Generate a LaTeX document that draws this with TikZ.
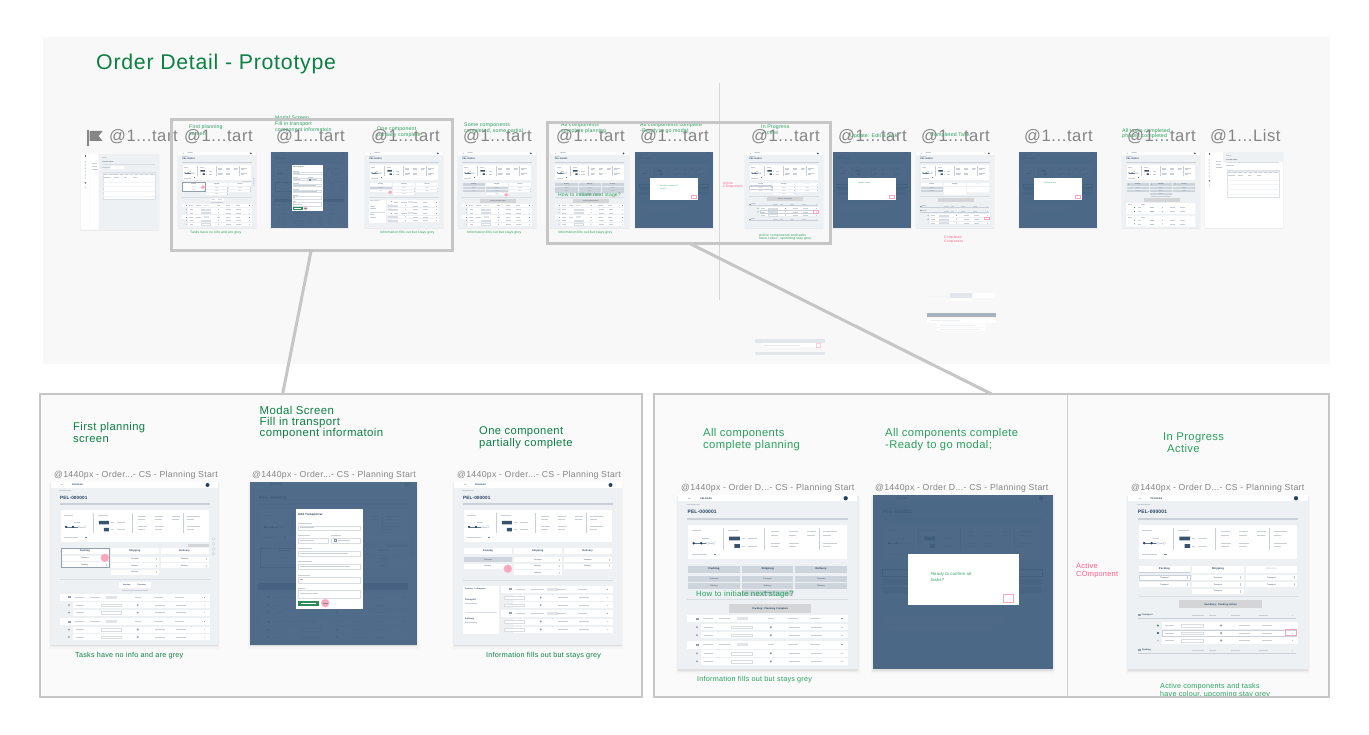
\documentclass[tikz,border=0pt]{standalone}
\usepackage{fontspec}
\setmainfont[LetterSpace=3.5]{Liberation Sans}
\usetikzlibrary{calc}
\definecolor{panelbg}{HTML}{F8F8F8}
\definecolor{boxbg}{HTML}{FAFAFA}
\definecolor{framec}{HTML}{C6C6C6}
\definecolor{gtitle}{HTML}{0B8043}
\definecolor{gsoft}{HTML}{27A05C}
\definecolor{glabel}{HTML}{858585}
\definecolor{pinkt}{HTML}{FF5C8A}
\definecolor{pinkf}{HTML}{F7A6BC}
\definecolor{navy}{HTML}{23405F}
\definecolor{scrbg}{HTML}{EDF1F4}
\definecolor{tinyc}{HTML}{C8CFD7}
\definecolor{greyrow}{HTML}{CDD4DC}
\definecolor{ovl}{HTML}{3F5D7E}
\definecolor{btn}{HTML}{D3D5D6}
\definecolor{linec}{HTML}{C9D0D9}
\definecolor{bargreen}{HTML}{2E8B57}
\newcounter{nn}
\newcommand\tx[5][base west]{\stepcounter{nn}\node[anchor=#1,inner sep=0pt,text=#4,font=\fontsize{#3}{#3}\selectfont] (n\thenn) at ($(#2)+(0,.35*#3)$) {#5};}
\newcommand\tl[4][tinyc]{\fill[#1] (#2,#3) rectangle ++(#4,.8);}
\newcommand\screen[4]{\begin{scope}[shift={(#1,#2)},scale=#3,transform shape]#4\end{scope}}
\newcommand\shadow{%
  \fill[black,opacity=.02] (-2,1) rectangle (170,167);
  \fill[black,opacity=.03] (-1,1) rectangle (169,165.5);
  \fill[black,opacity=.06] (0,1) rectangle (168,164.2);}
\newcommand\scrbase{%
  \shadow
  \fill[scrbg] (0,0) rectangle (168,163);
  \fill[white] (0,0) rectangle (168,6);
  \fill[tinyc] (10,2.4) rectangle ++(2,1);
  \tx{21,3}{2.2}{navy}{\bfseries PELEKAS}
  \fill[navy] (157,3) circle (2);
  \tl{8.5}{8.5}{12}
  \tx{9,15.5}{4.6}{navy}{\bfseries PEL-000001}
  \fill[linec] (9,21.5) rectangle (159,23);
  \fill[white] (10,28) rectangle (158,60);
  \tl{13}{33}{9}\tl{23}{40.5}{6}
  \draw[navy!70,line width=.3] (15,45) -- (28,45);
  \draw[tinyc,line width=.3] (28,45) -- (34,45);
  \fill[navy] (15,45) circle (1.3) (22,45) circle (1.3);
  \filldraw[draw=tinyc,fill=white,line width=.3] (28,45) circle (1.3) (34,45) circle (1.3);
  \tl{13}{55}{14}\fill[navy!60] (34,54.8) rectangle ++(2,1);
  \fill[tinyc] (42,31) rectangle ++(.3,20);
  \tl{47}{33}{10}
  \fill[navy!90] (48,39) rectangle (58,42.5) (53,46) rectangle (58,49.5);
  \tl{60}{40.5}{3}\tl{66}{40.5}{8}\tl{60}{47.5}{3}\tl{66}{47.5}{8}
  \fill[tinyc] (81,31) rectangle ++(.3,20);
  \foreach \q in {87,104,121}{\tl{\q}{34}{8}\tl{\q}{37}{7}}
  \foreach \q in {87,104}{\tl{\q}{44.5}{9}\tl{\q}{47.5}{7}}
  \fill[tinyc] (132,31) rectangle ++(.3,20);
  \tl{136}{34}{13}\tl{136}{37}{7}\tl{136}{44.5}{13}\tl{136}{47.5}{7}}
\newcommand\chd[5][navy]{\fill[#4] (#2,#3) rectangle ++(48,6.5);\tx[base]{#2+24,#3+3.2}{2.5}{#1}{\bfseries #5}}
\newcommand\cel[4][Transport]{\fill[#4] (#2,#3) rectangle ++(48,5);\tx[base]{#2+24,#3+2.5}{1.8}{navy}{#1}\fill[tinyc] (#2+45,#3+1.3) rectangle ++(.5,2.4);}
\newcommand\hrow[2][9]{%
  \fill[white] (#1,#2) rectangle (159,#2+7);
  \fill[navy!50] (#1+8,#2+2.6) rectangle ++(3,2);
  \tl{#1+15}{#2+3}{9}\tl{#1+30}{#2+3}{10}
  \fill[greyrow!60] (#1+46,#2+2) rectangle ++(11,3);
  \tl{84}{#2+3}{6}\tl{103}{#2+3}{9}\tl{124}{#2+3}{9}
  \fill[navy!50] (153,#2+3) rectangle ++(1.5,1);}
\newcommand\trow[3][22]{%
  \fill[#3] (#1-4,#2+3) circle (1);
  \fill[white] (#1,#2) rectangle (159,#2+6);
  \tl{#1+3}{#2+2.6}{8}
  \draw[tinyc!70,fill=white,line width=.25] (50,#2+1.7) rectangle ++(20,2.6);
  \fill[navy!50] (87,#2+3) circle (1.1);
  \tl{104}{#2+2.6}{10}\tl{125}{#2+2.6}{10}
  \fill[tinyc] (153,#2+2.6) rectangle ++(1.6,.8);}
\newcommand\rowsA{%
  \hrow{112}\trow{120.5}{navy!50}\trow{128}{navy!50}
  \hrow{136.5}\trow{145}{navy!50}\trow{152.5}{navy!50}}
\newcommand\divd{\fill[linec!70] (9,97) rectangle (159,97.8);}
\newcommand\pinkc[2]{\fill[pinkf] (#1,#2) circle (4);\draw[pinkt!45,line width=.4] (#1,#2) circle (4);}
\newcommand\scrA{%
  \scrbase
  \fill[btn] (137,62) rectangle (158,65);
  \foreach \q in {57,62,67,72}{\draw[tinyc,line width=.3] (163,\q) circle (1.6);}
  \chd{60}{66}{white}{Shipping}\chd{110}{66}{white}{Delivery}
  \cel{60}{75}{white}\cel[Delivery]{60}{81.5}{white}\cel[Delivery]{60}{88}{white}
  \cel{110}{75}{white}\cel[Delivery]{110}{81.5}{white}
  \chd{10}{66}{white}{Packing}
  \cel{10}{74}{white}\cel[Delivery]{10}{80.5}{white}
  \draw[navy!50,line width=.5] (10,66) rectangle (58,85.5);
  \divd
  \fill[white] (68,100) rectangle (100,106.5);
  \tx[base]{76,103.2}{1.8}{navy}{\bfseries Packing}\tx[base]{91,103.2}{1.8}{navy}{\bfseries Planning}
  \tl{71}{108.5}{26}
  \rowsA}
\newcommand\scrAp{\scrA\pinkc{54}{76}}
\newcommand\scrB{%
  \scrA
  \fill[navy!55] (8,101) rectangle (158,108);
  \fill[ovl,opacity=.9] (0,0) rectangle (168,163);
  \fill[navy!80] (157,3) circle (2);
  \fill[white] (46,27) rectangle (113,127);
  \tx{48,33}{3}{navy}{\bfseries Add Transporter}
  \tl{48}{41}{14}\draw[tinyc!70,line width=.25] (48,44) rectangle (110,48);
  \tl{48}{53}{12}\tl{81}{53}{10}
  \draw[tinyc!70,line width=.25] (48,56) rectangle (78,61) (81,56) rectangle (110,61);
  \draw[navy!60,line width=.3] (84,57.6) rectangle ++(2,2);\tl{88}{58.2}{12}
  \tl{50}{58.2}{14}\tl{50}{45.6}{14}
  \tl{48}{66}{14}\draw[tinyc!70,line width=.25] (48,69) rectangle (110,74);\tl{50}{71}{48}
  \tl{48}{79}{14}\draw[tinyc!70,line width=.25] (48,82) rectangle (110,87);\tl{50}{84}{50}
  \tl{48}{93}{12}\draw[tinyc!70,line width=.25] (48,95) rectangle (110,101);\tl[navy!40]{50}{97.6}{3}
  \tl{48}{106}{7}\draw[tinyc!70,line width=.25] (48,108) rectangle (110,116);\tl{50}{111}{18}
  \fill[bargreen] (48,119) rectangle (69,124);\tl[white]{51}{121}{15}
  \pinkc{75.5}{121.5}\tl[navy!60]{73}{121}{5}}
\newcommand\scrC{%
  \scrbase
  \chd{10}{66}{white}{Packing}\chd{60}{66}{white}{Shipping}\chd{110}{66}{white}{Delivery}
  \cel{10}{75.5}{greyrow}\cel[Delivery]{10}{82}{white}
  \cel{60}{75.5}{white}\cel[Delivery]{60}{82}{white}\cel[Delivery]{60}{88.5}{white}
  \cel{110}{75.5}{white}\cel[Delivery]{110}{82}{white}
  \fill[linec!70] (9,98) rectangle (159,98.8);
  \fill[white] (9,104) rectangle (45,152);
  \tx{11,107}{1.9}{navy}{\bfseries Packing\quad In Progress}
  \tx{11,118}{2.2}{navy}{\bfseries Transport}\tl{11}{121}{12}
  \fill[linec!70] (11,130) rectangle (43,130.5);
  \tx{11,137}{2.2}{navy}{\bfseries Delivery}\tl{11}{140}{12}
  \hrow[47]{104}\trow[59]{113}{navy!50}\trow[59]{120.5}{navy!50}
  \hrow[47]{128}\trow[59]{137}{navy!50}\trow[59]{145}{navy!50}
  \pinkc{54}{87}}
\newcommand\scrD{%
  \scrbase
  \chd{10}{66}{greyrow}{Packing}\chd{60}{66}{white}{Shipping}\chd{110}{66}{white}{Delivery}
  \cel{10}{75.5}{greyrow}\cel[Delivery]{10}{82}{greyrow}
  \cel{60}{75.5}{greyrow}\cel[Delivery]{60}{82}{greyrow}\cel[Delivery]{60}{88.5}{white}
  \cel{110}{75.5}{white}\cel[Delivery]{110}{82}{white}
  \divd
  \fill[btn] (48,102) rectangle (125,110);
  \tx[base]{86.5,106}{2.3}{navy}{\bfseries Packing: Planning Complete}
  \rowsA
  \pinkc{104}{92}}
\newcommand\scrE{%
  \scrbase
  \chd{10}{66}{greyrow}{Packing}\chd{60}{66}{greyrow}{Shipping}\chd{110}{66}{greyrow}{Delivery}
  \cel{10}{76}{greyrow}\cel[Delivery]{10}{82.5}{greyrow}
  \cel{60}{76}{greyrow}\cel[Delivery]{60}{82.5}{greyrow}\cel[Delivery]{60}{89}{greyrow}
  \cel{110}{76}{greyrow}\cel[Delivery]{110}{82.5}{greyrow}
  \divd
  \fill[btn] (48,102) rectangle (125,110);
  \tx[base]{86.5,106}{2.3}{navy}{\bfseries Packing: Planning Complete}
  \rowsA}
\newcommand\scrF[1]{%
  \scrbase
  \draw[navy!70,line width=.4] (9,69) rectangle (158,76);
  \fill[navy!35] (9,78) rectangle (158,84) (9,86) rectangle (158,92);
  \fill[white] (9,113) rectangle (122,120) (15,122) rectangle (112,127);
  \fill[ovl,opacity=.92] (0,0) rectangle (168,163);
  \fill[white] (33,55) rectangle (136,103);
  #1
  \draw[pinkf,line width=.5] (122,93) rectangle (131,100);}
\newcommand\scrFready{\scrF{\tx{54,73.5}{4}{gsoft}{Ready to confirm all}\tx{54,79.5}{4}{gsoft}{tasks?}}}
\newcommand\scrFupd{\scrF{\tx{54,67}{4}{gsoft}{Update a task}}}
\newcommand\secthd[2]{%
  \fill[navy!50] (9,#1-1) rectangle ++(3,2);
  \tx{13,#1}{2}{navy}{\bfseries #2}
  \fill[linec] (9,#1+2.5) rectangle (157,#1+3.2);
  \tl{60}{#1}{11}\tl{76}{#1}{6}\tl{96}{#1}{9}\tl{122}{#1}{9}
  \fill[tinyc] (153,#1) rectangle ++(1.6,.8);}
\newcommand\scrG{%
  \scrbase
  \chd{10}{66}{white}{Packing}\chd{60}{66}{white}{Shipping}\chd[tinyc]{110}{66}{white}{Delivery}
  \fill[linec] (10,71.5) rectangle (58,73);
  \cel{10}{74.5}{white}\draw[linec,line width=.4] (10,74.5) rectangle ++(48,5);
  \cel{10}{81}{white}
  \cel{60}{74.5}{white}\cel{60}{81}{white}\cel{60}{87.5}{white}
  \cel{110}{74.5}{white}\cel{110}{81}{white}
  \fill[linec!70] (9,94) rectangle (159,94.8);
  \fill[btn] (48,98) rectangle (125,106);
  \tx[base]{86.5,102}{2.3}{navy}{\bfseries Summary - Packing Active}
  \secthd{112}{Transport}
  \trow[32]{119}{bargreen}
  \trow[32]{126}{navy}\draw[linec,line width=.6] (32,126) rectangle (157,132);
  \trow[32]{133}{tinyc}
  \secthd{145}{Packing}
  \draw[pinkf,line width=.5] (147,125) rectangle (157,131.5);}
\newcommand\scrH{%
  \scrbase
  \chd{10}{66}{white}{Packing}\chd{60}{66}{white}{Shipping}\chd[tinyc]{110}{66}{white}{Delivery}
  \cel{10}{75}{greyrow}\cel{10}{81.5}{greyrow}
  \fill[white] (60,75) rectangle ++(48,17) (110,75) rectangle ++(48,12);
  \fill[linec!70] (9,94) rectangle (159,94.8);
  \fill[btn] (48,99) rectangle (125,107);
  \secthd{117}{Packing}\secthd{127}{Transport}
  \trow[30]{134}{bargreen}\trow[30]{142}{navy}\trow[30]{150}{tinyc}
  \draw[pinkf,line width=.5] (148,140) rectangle (158,146);}
\newcommand\scrI{%
  \scrbase
  \chd{10}{66}{greyrow}{Packing}\chd{60}{66}{greyrow}{Shipping}\chd{110}{66}{greyrow}{Delivery}
  \fill[bargreen] (14,69) circle (1) (64,69) circle (1) (114,69) circle (1);
  \cel{10}{75}{greyrow}\cel{10}{81.5}{greyrow}
  \cel{60}{75}{greyrow}\cel{60}{81.5}{greyrow}\cel{60}{88}{greyrow}
  \cel{110}{75}{greyrow}\cel{110}{81.5}{greyrow}
  \tl{62}{95}{44}
  \fill[btn] (48,99) rectangle (125,108);
  \fill[white] (9,110) rectangle (158,134) (9,137) rectangle (158,161);
  \tl{12}{113}{9}\tl{40}{113}{9}\tl{12}{140}{9}\tl{40}{140}{9}
  \foreach \q in {118,126,145,153}{
    \fill[bargreen] (27,\q+2) circle (1.1);\tl[bargreen!40]{60}{\q+1.6}{10}\tl{34}{\q+1.6}{8}
    \fill[navy!50] (87,\q+2) circle (1.1);\tl{104}{\q+1.6}{10}\tl{125}{\q+1.6}{10}}}
\newcommand\scrList[1]{%
  \shadow
  \fill[#1] (0,0) rectangle (168,163);
  \fill[scrbg] (39,0) rectangle (168,22);
  \fill[white] (0,0) rectangle (18,163) (19,0) rectangle (38,163);
  \fill[navy!80] (8,3) rectangle ++(3.5,3.5);
  \foreach \q in {17,24,31,38,45,52,72}{\draw[tinyc,line width=.3] (9.5,\q) circle (1.5);}
  \fill[navy!80] (9.5,62) circle (1.8);
  \tl{24}{20}{10}\tl{24}{26}{10}\tl{24}{32}{12}
  \tl{45}{6}{12}
  \tx{46,17}{3.2}{navy}{\bfseries Current orders}
  \fill[linec!70] (45,21) rectangle (160,22);
  \tl{46}{29}{16}\fill[white] (64,26) rectangle (92,33);
  \fill[white] (47,41) rectangle (160,98);
  \fill[greyrow!50] (47,40) rectangle (160,46);
  \foreach \q in {50,61,...,156}{\tl[tinyc]{\q}{42.5}{7}}
  \tl{50}{50}{14}\tl{72}{50}{9}\tl{92}{50}{8}\tl{112}{50}{8}
  \draw[greyrow!70,line width=.4] (47,40) rectangle (160,98);
  \foreach \q in {60,70,80,90}{\fill[greyrow!25] (48,\q) rectangle (159,\q+.4);}}
\begin{document}
\begin{tikzpicture}[x=1pt,y=-1pt,line join=miter,
  framebox/.style={draw=framec,line width=3pt,inner sep=0pt,outer sep=0pt},
  bigbox/.style={draw=framec,fill=boxbg,line width=2.5pt,inner sep=0pt,outer sep=0pt},
  linker/.style={draw=framec,line width=3pt}]
\useasboundingbox (0,0) rectangle (1369,735);
\fill[white] (0,0) rectangle (1369,735);
\fill[panelbg] (43,37) rectangle (1330,364);
\draw[framec!70,line width=1pt] (719,83) -- (719,300);
\tx{96,62}{21.3}{gtitle}{Order Detail - Prototype}
% thumbnails
\screen{81}{154}{.464}{\scrList{scrbg}}
\screen{178}{152}{.464}{\scrAp}
\screen{270.5}{152}{.464}{\scrB}
\screen{365}{152}{.464}{\scrC}
\screen{458}{152}{.464}{\scrD}
\screen{550.7}{152}{.464}{\scrE}
\screen{635}{152}{.464}{\scrFready}
\screen{745}{152}{.464}{\scrG}
\screen{833}{152}{.464}{\scrFupd}
\screen{916}{152}{.464}{\scrH}
\screen{1019}{152}{.464}{\scrFupd}
\screen{1122}{152}{.464}{\scrI}
\screen{1205}{152}{.464}{\scrList{white}}
% small green notes
\tx{189,127}{5.2}{gsoft}{First planning}
\tx{189,134}{5.2}{gsoft}{screen}
\tx{275,118}{5.2}{gsoft}{Modal Screen}
\tx{275,124}{5.2}{gsoft}{Fill in transport}
\tx{275,130}{5.2}{gsoft}{component informatoin}
\tx{377,129}{5.2}{gsoft}{One component}
\tx{377,134.5}{5.2}{gsoft}{partially complete}
\tx{464,125}{5.2}{gsoft}{Some components}
\tx{464,131}{5.2}{gsoft}{completed, some partial}
\tx{561,125}{5.2}{gsoft}{All components}
\tx{561,131}{5.2}{gsoft}{complete planning}
\tx{640,125}{5.2}{gsoft}{All components complete}
\tx{640,131}{5.2}{gsoft}{-Ready to go modal;}
\tx{761,127}{5.2}{gsoft}{In Progress}
\tx{763,133}{5.2}{gsoft}{Active}
\tx{850,136}{5.2}{gsoft}{Update: Edit a task}
\tx{930,135}{5.2}{gsoft}{Completed Task}
\tx{1122,131}{5.2}{gsoft}{All tasks completed}
\tx{1122,136}{5.2}{gsoft}{phases completed}
\tx{558,195}{5}{gsoft}{How to initiate next stage?}
\tx{190,232}{3.4}{gsoft}{Tasks have no info and are grey}
\tx{380,232}{3.4}{gsoft}{Information fills out but stays grey}
\tx{467,232}{3.4}{gsoft}{Information fills out but stays grey}
\tx{558,232}{3.4}{gsoft}{Information fills out but stays grey}
\tx{759,235}{3.4}{gsoft}{Active components and tasks}
\tx{759,238.7}{3.4}{gsoft}{have colour, upcoming stay grey}
\tx{723,183}{3.4}{pinkt}{Active}
\tx{723,186.7}{3.4}{pinkt}{COmponent}
\tx{944,237}{3.4}{pinkt}{Completed}
\tx{944,241}{3.4}{pinkt}{Component}
% grey thumbnail labels
\fill[glabel] (87,130.5) rectangle (88.6,146);
\fill[glabel] (89.6,131) -- (102.7,131) -- (98.5,136) -- (102.7,141) -- (89.6,141) -- cycle;
\tx{109,136}{16.6}{glabel}{@1...tart}
\tx{184,136}{16.6}{glabel}{@1...tart}
\tx{276,136}{16.6}{glabel}{@1...tart}
\tx{371,136}{16.6}{glabel}{@1...tart}
\tx{463,136}{16.6}{glabel}{@1...tart}
\tx{556,136}{16.6}{glabel}{@1...tart}
\tx{640,136}{16.6}{glabel}{@1...tart}
\tx{751,136}{16.6}{glabel}{@1...tart}
\tx{838,136}{16.6}{glabel}{@1...tart}
\tx{921,136}{16.6}{glabel}{@1...tart}
\tx{1024,136}{16.6}{glabel}{@1...tart}
\tx{1127,136}{16.6}{glabel}{@1...tart}
\tx{1210,136}{16.6}{glabel}{@1...List}
% faint fragments in the panel
\fill[greyrow!55] (755,339) rectangle (825,343);
\fill[white] (762,343.5) rectangle (820,347);
\fill[tinyc!45] (763,345) rectangle (800,345.6);
\draw[pinkf!60,line width=.4] (816,343) rectangle (820,347);
\fill[greyrow!55] (755,352) rectangle (825,355.5);
\fill[greyrow!55] (950,293) rectangle (972,298);
\fill[white] (950,298) rectangle (972,301);
\fill[greyrow!25] (927,296) rectangle (950,297.5);
\fill[white] (973,293) rectangle (995,298);
\fill[navy!40] (927,313) rectangle (996,317);
\fill[white] (927,319) rectangle (996,323) (937,323.5) rectangle (985,327) (937,328) rectangle (985,331);
\fill[tinyc!45] (930,320.5) rectangle (960,321.2) (940,325) rectangle (975,325.6) (940,329.3) rectangle (980,330);
% frames
\node[framebox,minimum width=281pt,minimum height=130.5pt] (box1) at (312,185) {};
\node[framebox,minimum width=283.5pt,minimum height=120.5pt] (box2) at (689.2,183) {};
\node[bigbox,minimum width=602pt,minimum height=303pt] (big1) at (341,545.5) {};
\node[bigbox,minimum width=675pt,minimum height=303pt] (big2) at (991.5,545.5) {};
\draw[framec!90,line width=1pt] (1067,394) -- (1067,697);
\coordinate (a1) at ($(box1.south west)!.497!(box1.south east)$);
\coordinate (b1) at ($(big1.north west)!.403!(big1.north east)$);
\coordinate (a2) at ($(box2.south west)!.50!(box2.south east)$);
\coordinate (b2) at ($(big2.north west)!.5!(big2.north east)$);
\draw[linker] (a1) -- (b1);
\draw[linker] (a2) -- (b2);
% large screens
\screen{51}{482}{.997}{\scrAp}
\screen{250}{482}{.997}{\scrB}
\screen{454}{482}{.997}{\scrC}
\screen{677.7}{495}{1.07}{\scrE}
\screen{873}{495}{1.07}{\scrFready}
\screen{1128}{495}{1.07}{\scrG}
% large labels
\tx{73,427}{11.2}{gtitle}{First planning}
\tx{73,439}{11.2}{gtitle}{screen}
\tx{259.5,411}{11.4}{gtitle}{Modal Screen}
\tx{259.5,422}{11.4}{gtitle}{Fill in transport}
\tx{259.5,433}{11.4}{gtitle}{component informatoin}
\tx{479,431}{11.2}{gtitle}{One component}
\tx{479,443}{11.2}{gtitle}{partially complete}
\tx{703,433}{11.2}{gsoft}{All components}
\tx{703,445}{11.2}{gsoft}{complete planning}
\tx{885,433}{11.2}{gsoft}{All components complete}
\tx{885,445}{11.2}{gsoft}{-Ready to go modal;}
\tx{1163,437}{11.2}{gsoft}{In Progress}
\tx{1167,449}{11.2}{gsoft}{Active}
\tx{54,474}{8.7}{glabel}{@1440px - Order...- CS - Planning Start}
\tx{252,474}{8.7}{glabel}{@1440px - Order...- CS - Planning Start}
\tx{457,474}{8.7}{glabel}{@1440px - Order...- CS - Planning Start}
\tx{681,487}{8.7}{glabel}{@1440px - Order D...- CS - Planning Start}
\tx{875,487}{8.7}{glabel}{@1440px - Order D...- CS - Planning Start}
\tx{1131,487}{8.7}{glabel}{@1440px - Order D...- CS - Planning Start}
\tx{75,655}{7.2}{gtitle}{Tasks have no info and are grey}
\tx{486,655}{7.2}{gtitle}{Information fills out but stays grey}
\tx{697,679}{7.2}{gsoft}{Information fills out but stays grey}
\tx{696,594}{7.8}{gsoft}{How to initiate next stage?}
\tx{1076,566}{7.4}{pinkt}{Active}
\tx{1076,574}{7.4}{pinkt}{COmponent}
\tx{1160,686}{7.2}{gsoft}{Active components and tasks}
\begin{scope}
\clip (1100,689) rectangle (1320,695.3);
\tx{1160,694}{7.2}{gsoft}{have colour, upcoming stay grey}
\end{scope}
\end{tikzpicture}
\end{document}
